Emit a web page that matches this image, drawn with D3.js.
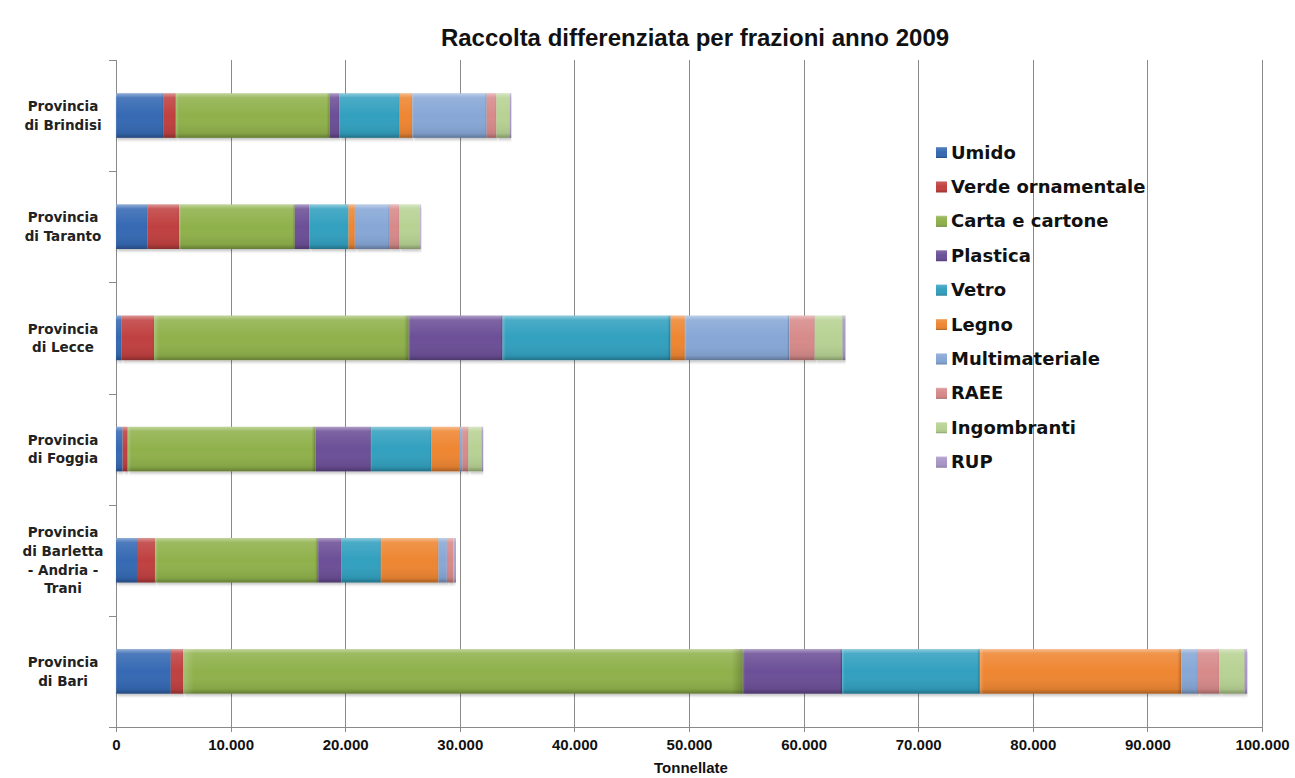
<!DOCTYPE html>
<html><head><meta charset="utf-8">
<script src="https://cdn.jsdelivr.net/npm/d3@7"></script>
<style>
html,body{margin:0;padding:0;background:#fff;}
svg{display:block;}
</style></head>
<body>
<svg id="chart" width="1295" height="778"></svg>
<script>
// ---- data ----
const categories = ["Provincia di Brindisi","Provincia di Taranto","Provincia di Lecce","Provincia di Foggia","Provincia di Barletta - Andria - Trani","Provincia di Bari"];
const categoryLines = [["Provincia","di Brindisi"],["Provincia","di Taranto"],["Provincia","di Lecce"],["Provincia","di Foggia"],["Provincia","di Barletta","- Andria -","Trani"],["Provincia","di Bari"]];
const seriesNames = ["Umido","Verde ornamentale","Carta e cartone","Plastica","Vetro","Legno","Multimateriale","RAEE","Ingombranti","RUP"];
const umido       = [4120, 2760,   450,   580,  1830,  4780];
const verde       = [1100, 2750,  2880,   440,  1570,  1070];
const carta       = [13430,10090, 22220, 16370, 14240, 48850];
const plastica    = [810,  1250,  8180,  4850,  2040,  8650];
const vetro       = [5290, 3440, 14670,  5290,  3430, 12030];
const legno       = [1110,  550,  1240,  2470,  5030, 17580];
const multi       = [6480, 2990,  9110,   230,   730,  1460];
const raee        = [850,   870,  2220,   520,   580,  1850];
const ingombranti = [1190, 1830,  2440,  1160,    60,  2210];
const rup         = [100,    50,   220,   120,   150,   210];
const xTicks = [0,10000,20000,30000,40000,50000,60000,70000,80000,90000,100000];
const colors = ["#3669b3","#c0413f","#8fb14c","#6c5097","#33a0bf","#ee8632","#87a7d6","#d78a8a","#b7d293","#a996c6"];

(function(){
const seriesValues = [umido,verde,carta,plastica,vetro,legno,multi,raee,ingombranti,rup];
const table = categories.map((c,i)=>{const o={cat:c}; seriesNames.forEach((s,j)=>o[s]=seriesValues[j][i]); return o;});

const svg = d3.select("#chart");
const pL=116, pR=1262, pT=60, pB=727;
const x = d3.scaleLinear().domain([0,100000]).range([pL,pR]);
const y = d3.scaleBand().domain(categories).range([pT,pB]).paddingInner(0.6).paddingOuter(0.3);
const fmt = d3.formatLocale({decimal:",",thousands:".",grouping:[3],currency:["€",""]}).format(",d");

const defs = svg.append("defs");
const g1 = defs.append("linearGradient").attr("id","bevel").attr("x1",0).attr("y1",0).attr("x2",0).attr("y2",1);
[[0,"#fff",0.45],[0.1,"#fff",0.12],[0.5,"#fff",0.0],[0.9,"#000",0.08],[1,"#000",0.3]].forEach(s=>g1.append("stop").attr("offset",s[0]).attr("stop-color",s[1]).attr("stop-opacity",s[2]));
const g2 = defs.append("linearGradient").attr("id","bevelH").attr("x1",0).attr("y1",0).attr("x2",1).attr("y2",0);
[[0,"#fff",0.2],[0.02,"#fff",0],[0.98,"#000",0],[1,"#000",0.2]].forEach(s=>g2.append("stop").attr("offset",s[0]).attr("stop-color",s[1]).attr("stop-opacity",s[2]));
const f = defs.append("filter").attr("id","shadow").attr("x","-5%").attr("y","-20%").attr("width","110%").attr("height","150%");
f.append("feDropShadow").attr("dx",1).attr("dy",2).attr("stdDeviation",1.5).attr("flood-color","#000").attr("flood-opacity",0.25);

svg.append("text").attr("x",695).attr("y",46).attr("text-anchor","middle")
  .attr("font-family","'Liberation Sans',Arial,sans-serif").attr("font-weight","bold").attr("font-size",24)
  .attr("fill","#111").text("Raccolta differenziata per frazioni anno 2009");

svg.append("g").selectAll("line").data(xTicks).join("line")
  .attr("x1",d=>Math.round(x(d))+0.5).attr("x2",d=>Math.round(x(d))+0.5).attr("y1",pT).attr("y2",pB+5)
  .attr("stroke","#8a8a8a").attr("stroke-width",1);
svg.append("line").attr("x1",pL).attr("x2",pR).attr("y1",pB+0.5).attr("y2",pB+0.5).attr("stroke","#8a8a8a");
const step = y.step();
svg.append("g").selectAll("line").data(d3.range(categories.length+1)).join("line")
  .attr("x1",pL-7).attr("x2",pL).attr("y1",d=>Math.round(pT+d*step)+0.5).attr("y2",d=>Math.round(pT+d*step)+0.5)
  .attr("stroke","#8a8a8a");

const xAxis = d3.axisBottom(x).tickValues(xTicks).tickFormat(fmt).tickSize(0).tickPadding(12);
const xa = svg.append("g").attr("transform",`translate(0,${pB})`).call(xAxis);
xa.select(".domain").remove();
xa.selectAll("text").attr("font-family","'Liberation Sans',Arial,sans-serif").attr("font-weight","bold").attr("font-size",15).attr("fill","#111");

svg.append("text").attr("x",691).attr("y",773).attr("text-anchor","middle")
  .attr("font-family","'Liberation Sans',Arial,sans-serif").attr("font-weight","bold").attr("font-size",15)
  .attr("fill","#111").text("Tonnellate");

const yl = svg.append("g");
categories.forEach((c,i)=>{
  const lines = categoryLines[i];
  const cy = y(c)+y.bandwidth()/2;
  const lh = 18.8;
  const t = yl.append("text").attr("text-anchor","middle").attr("font-family","'DejaVu Sans',sans-serif").attr("font-weight","bold").attr("font-size",13.5).attr("fill","#222");
  lines.forEach((ln,k)=>t.append("tspan").attr("x",63).attr("y",cy + (k-(lines.length-1)/2)*lh + 5).text(ln));
});

const stack = d3.stack().keys(seriesNames)(table);
const bars = svg.append("g");
stack.forEach((layer,j)=>{
  const gL = bars.append("g");
  layer.forEach(d=>{
    const x0=x(d[0]), x1=x(d[1]), yy=y(d.data.cat), h=y.bandwidth();
    if (x1-x0<=0) return;
    gL.append("rect").attr("x",x0).attr("y",yy).attr("width",x1-x0).attr("height",h).attr("fill",colors[j]).attr("filter","url(#shadow)");
    gL.append("rect").attr("x",x0).attr("y",yy).attr("width",x1-x0).attr("height",h).attr("fill","url(#bevel)");
    gL.append("rect").attr("x",x0).attr("y",yy).attr("width",x1-x0).attr("height",h).attr("fill","url(#bevelH)");
  });
});

const lg = svg.append("g");
seriesNames.forEach((s,i)=>{
  const cy = 152 + i*34.4;
  lg.append("rect").attr("x",936).attr("y",cy-5).attr("width",11).attr("height",11).attr("fill",colors[i]);
  lg.append("rect").attr("x",936).attr("y",cy-5).attr("width",11).attr("height",11).attr("fill","url(#bevel)");
  lg.append("text").attr("x",951).attr("y",cy+6.5).attr("font-family","'DejaVu Sans',sans-serif").attr("font-weight","bold").attr("font-size",18).attr("fill","#111").text(s);
});
})();
</script>
</body></html>
